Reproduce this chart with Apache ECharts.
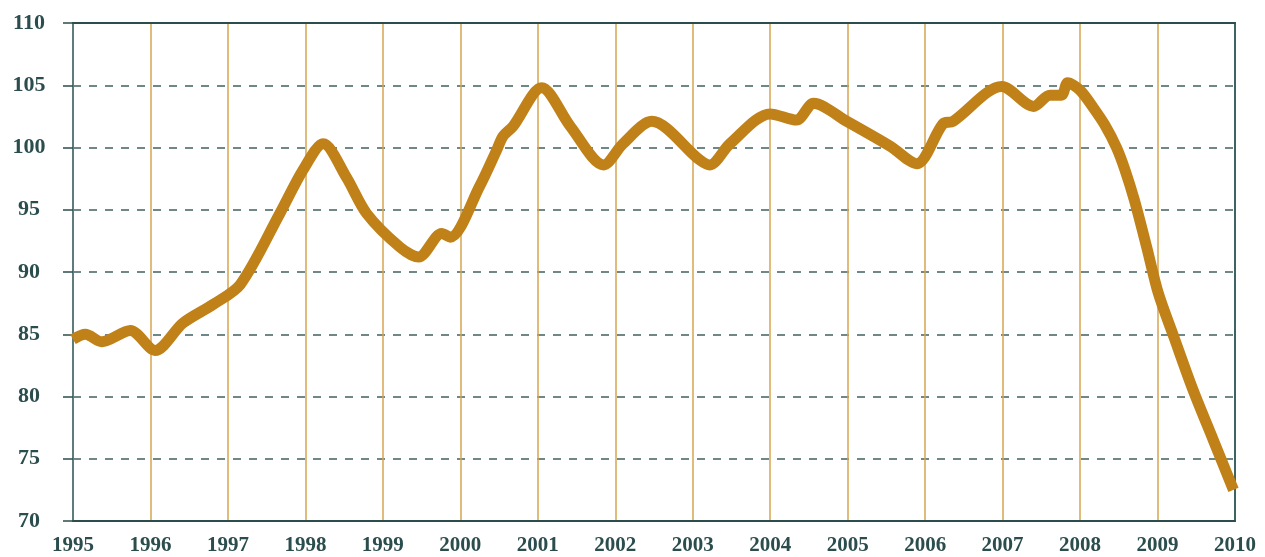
<!DOCTYPE html>
<html>
<head>
<meta charset="utf-8">
<script src="https://cdn.jsdelivr.net/npm/echarts@6/dist/echarts.min.js"></script>
<style>
html,body{margin:0;padding:0;background:#fff;}
#chart{width:1265px;height:557px;}
</style>
</head>
<body>
<div id="chart"></div>
<script>
// Time positions (fractional years) and index values
const years = [1995.0, 1995.16, 1995.37, 1995.74, 1996.06, 1996.42, 1996.81, 1997.16, 1997.67, 1997.97,
  1998.23, 1998.53, 1998.79, 1999.22, 1999.46, 1999.76, 1999.87, 2000.25, 2000.47, 2000.55, 2000.68,
  2001.05, 2001.42, 2001.85, 2002.1, 2002.47, 2003.09, 2003.22, 2003.48, 2004.0, 2004.34,
  2004.56, 2004.99, 2005.55, 2005.89, 2006.23, 2006.36, 2006.99, 2007.40, 2007.61, 2007.76,
  2007.84, 2008.0, 2008.17, 2008.32, 2008.47, 2008.58, 2008.70, 2008.86, 2009.01, 2009.21, 2009.46, 2009.72, 2009.98];
const values = [84.6, 85.0, 84.4, 85.3, 83.7, 85.9, 87.4, 89.0, 94.7, 98.2,
  100.3, 97.6, 94.7, 92.0, 91.2, 93.1, 92.8, 96.9, 99.8, 100.9, 101.7,
  104.8, 101.7, 98.6, 100.3, 102.1, 99.0, 98.6, 100.3, 102.7, 102.2,
  103.55, 102.1, 100.1, 98.7, 101.9, 102.1, 104.9, 103.3, 104.2, 104.2,
  105.2, 104.6, 103.2, 101.8, 100.0, 98.2, 95.8, 92.0, 88.3, 84.8, 80.5, 76.5, 72.5];
const yTicks = [70, 75, 80, 85, 90, 95, 100, 105, 110];
const xTicks = [1995, 1996, 1997, 1998, 1999, 2000, 2001, 2002, 2003, 2004, 2005, 2006, 2007, 2008, 2009, 2010];

const dark = '#2b4d4d';
const fontFam = '"Liberation Serif", "DejaVu Serif", serif';
const chart = echarts.init(document.getElementById('chart'));
chart.setOption({
  animation: false,
  grid: {left: 73, right: 30, top: 23, bottom: 36},
  xAxis: [{
    type: 'value', min: xTicks[0], max: xTicks[xTicks.length - 1], interval: 1,
    axisLine: {show: true, onZero: false, lineStyle: {color: dark, width: 2}},
    axisTick: {show: false},
    axisLabel: {color: dark, fontFamily: fontFam, fontWeight: 'bold', fontSize: 21, margin: 14,
      formatter: v => String(v)},
    splitLine: {show: true, lineStyle: {color: '#d6a550', width: 1.5}}
  }, {
    type: 'value', position: 'top', min: xTicks[0], max: xTicks[xTicks.length - 1], interval: 1,
    axisLine: {show: true, onZero: false, lineStyle: {color: dark, width: 2}},
    axisTick: {show: false}, axisLabel: {show: false}, splitLine: {show: false}
  }],
  yAxis: [{
    type: 'value', min: yTicks[0], max: yTicks[yTicks.length - 1], interval: 5,
    axisLine: {show: true, onZero: false, lineStyle: {color: '#5f7c7c', width: 2}},
    axisTick: {show: true, length: 10, lineStyle: {color: dark, width: 1.5}},
    axisLabel: {color: dark, fontFamily: fontFam, fontWeight: 'bold', fontSize: 22, margin: 44, align: 'center',
      formatter: v => String(v)},
    splitLine: {show: true, lineStyle: {color: '#3f6262', width: 1.5, type: [8, 8]}}
  }, {
    type: 'value', position: 'right', min: yTicks[0], max: yTicks[yTicks.length - 1], interval: 5,
    axisLine: {show: true, onZero: false, lineStyle: {color: '#3f6262', width: 2}},
    axisTick: {show: false}, axisLabel: {show: false}, splitLine: {show: false}
  }],
  series: [{
    type: 'line',
    data: years.map((y, i) => [y, values[i]]),
    smooth: 0.3,
    showSymbol: false,
    lineStyle: {color: '#c08218', width: 11}
  }]
});
</script>
</body>
</html>
